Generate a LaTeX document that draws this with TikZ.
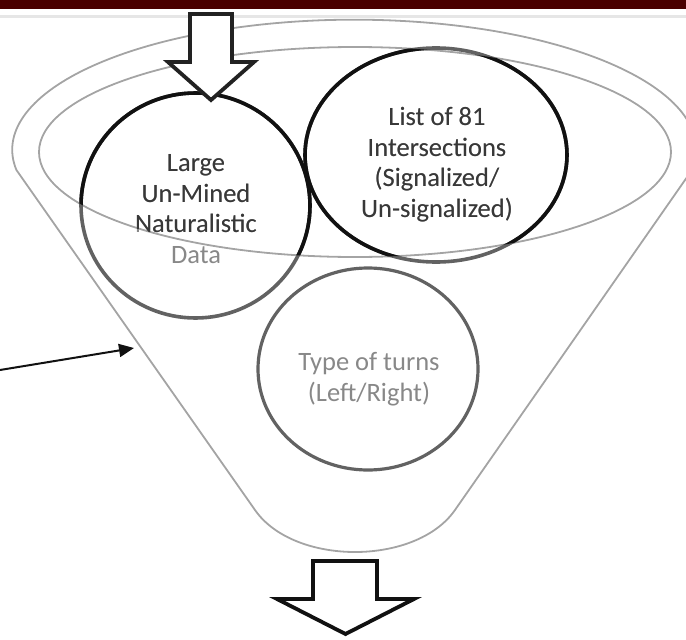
\documentclass[tikz,border=0pt]{standalone}
\usepackage{fontspec}
\setmainfont{Carlito}
\usetikzlibrary{shapes.geometric,arrows.meta}
\definecolor{barred}{HTML}{4A0000}
\definecolor{barline}{HTML}{E6E6E6}
\definecolor{rimgray}{HTML}{A4A4A4}
\definecolor{outstroke}{HTML}{626262}
\definecolor{outtext}{HTML}{888888}
\definecolor{darkstroke}{HTML}{111111}
\definecolor{darktext}{HTML}{383838}
\definecolor{arrowdark}{HTML}{222222}
\newcommand\fnlrings[2]{%
  \node[ring, draw=#1, minimum width=229, minimum height=225] (c1) at (195.5,205.5) {};
  \node[ring, draw=#1, minimum width=262, minimum height=214] (c2) at (436,155) {};
  \node[lbl, text=#2] (t1) at (196,209) {Large\\Un-Mined\\Naturalistic\\Data};
  \node[lbl, text=#2] (t2) at (437,164.5) {List of 81\\Intersections\\(Signalized/\\Un-signalized)};
}
\begin{document}
\begin{tikzpicture}[x=1pt,y=-1pt,
  rim/.style={draw=rimgray, line width=1.8pt},
  ring/.style={ellipse, line width=3.6pt, inner sep=0pt},
  lbl/.style={align=center, font=\fontsize{26.5}{30.5}\selectfont, inner sep=0pt},
  blockarrow/.style={draw=arrowdark, fill=white, line width=3.8pt, line join=miter},
]
\useasboundingbox (0,0) rectangle (686,640);
\clip (0,0) rectangle (686,640);
% top bar
\fill[barred] (0,0) rectangle (686,8.5);
\draw[barline, line width=2.5pt] (0,16.5) -- (686,16.5);
% funnel outline
\draw[rim] (692,170) arc[start angle=9, end angle=-189, x radius=342, y radius=130]
  -- (255,510) .. controls (294,566) and (416,566) .. (455,510) -- cycle;
% inner rim ellipse
\draw[rim] (355,152) ellipse [x radius=316, y radius=105];
% circles (outside the rim: lighter)
\fnlrings{outstroke}{outtext}
\begin{scope}
  \clip (355,152) ellipse [x radius=316, y radius=105];
  \fnlrings{darkstroke}{darktext}
\end{scope}
\node[ring, draw=outstroke, line width=3.2pt, minimum width=220, minimum height=202] (c3) at (368,369) {};
\node[lbl, text=outtext] (t3) at (369,379) {Type of turns\\(Left/Right)};
% block arrows
\draw[blockarrow] (190,14) -- (232,14) -- (232,62) -- (254,62) -- (211,100) -- (168,62) -- (190,62) -- cycle;
\draw[blockarrow, draw=darkstroke] (313,561) -- (377,561) -- (377,599) -- (414,599) -- (345.5,634) -- (277,599) -- (313,599) -- cycle;
% pointer arrow
\coordinate (pfrom) at (0,370);
\coordinate (pto) at (134,348);
\draw[darkstroke, line width=2pt, -{Triangle[length=15pt, width=13pt]}] (pfrom) -- (pto);
\end{tikzpicture}
\end{document}
